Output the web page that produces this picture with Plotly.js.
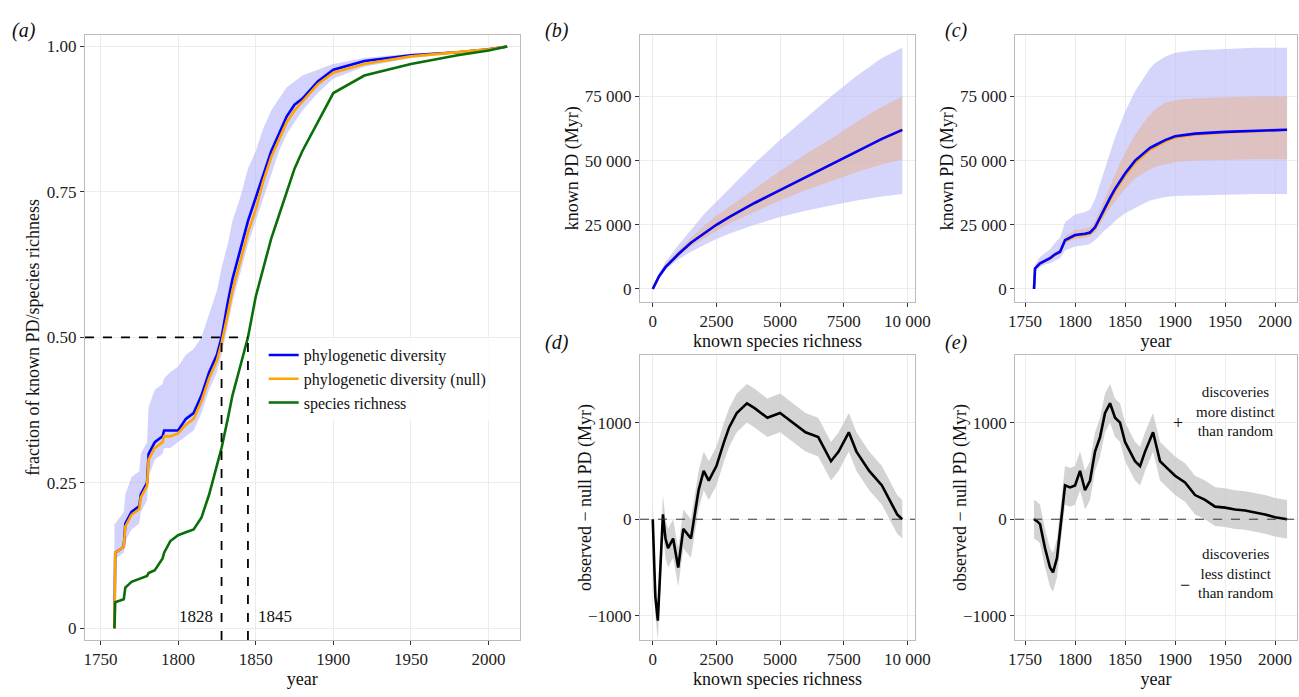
<!DOCTYPE html>
<html><head><meta charset="utf-8">
<script src="https://cdn.plot.ly/plotly-3.0.1.min.js"></script>
<style>body{margin:0}#chart{width:1299px;height:697px}</style>
</head><body><div id="chart"></div>
<script>
// panel (a): cumulative fractions by year
const yrA = [1759,1759.5,1765,1766,1770,1775,1776,1780,1781,1785,1790,1791,1795,1800,1805,1810,1815,1820,1825,1828,1832,1835,1840,1845,1850,1855,1860,1865,1870,1875,1880,1890,1900,1920,1950,1980,2000,2012];
const pdA = [0.0,0.13,0.14,0.18,0.2,0.21,0.23,0.25,0.3,0.32,0.33,0.34,0.34,0.34,0.36,0.37,0.4,0.44,0.47,0.5,0.56,0.6,0.65,0.7,0.74,0.78,0.82,0.85,0.88,0.9,0.91,0.94,0.96,0.975,0.985,0.99,0.995,1.0];
const nullA = [0.0,0.13,0.14,0.175,0.195,0.205,0.225,0.245,0.29,0.31,0.32,0.33,0.33,0.335,0.35,0.36,0.39,0.43,0.46,0.49,0.54,0.58,0.63,0.68,0.72,0.77,0.81,0.84,0.87,0.89,0.905,0.935,0.955,0.97,0.983,0.99,0.995,1.0];
const pdLoA = [0.12,0.12,0.13,0.15,0.17,0.18,0.2,0.22,0.26,0.29,0.3,0.31,0.31,0.32,0.33,0.34,0.37,0.41,0.44,0.47,0.52,0.56,0.61,0.66,0.7,0.74,0.78,0.82,0.85,0.87,0.89,0.92,0.945,0.965,0.98,0.988,0.994,1.0];
const pdHiA = [0.18,0.18,0.2,0.23,0.26,0.27,0.3,0.32,0.38,0.41,0.42,0.43,0.44,0.45,0.47,0.48,0.5,0.54,0.58,0.62,0.66,0.7,0.74,0.79,0.82,0.86,0.89,0.91,0.93,0.94,0.95,0.96,0.97,0.98,0.988,0.992,0.996,1.0];
const srA = [0.0,0.045,0.05,0.07,0.08,0.085,0.085,0.09,0.095,0.1,0.12,0.13,0.15,0.16,0.165,0.17,0.19,0.23,0.28,0.31,0.36,0.4,0.45,0.5,0.57,0.62,0.67,0.71,0.75,0.79,0.82,0.87,0.92,0.95,0.97,0.985,0.993,1.0];

// panel (b): PD vs species richness
const richB = [0,250,500,1000,1500,2000,2500,3000,4000,5000,6000,7000,8000,9000,9800];
const pdB = [0,5000,8500,13500,18000,21500,25000,28000,33500,38500,43500,48500,53500,58500,62000];
const blueLoB = [0,4500,7500,11500,14500,17000,19500,21500,25000,28000,30500,32500,34500,36000,37000];
const blueHiB = [0,6000,10500,17000,23000,29000,34000,39000,49000,58000,66500,75000,83000,90000,94000];
const orLoB = [0,4800,8000,12500,16500,19500,22500,25500,30000,34500,38500,42000,45500,48500,50500];
const orHiB = [0,5400,9300,15000,20000,24500,28500,32000,39000,46000,52500,58500,65000,71000,75000];

// panel (c): PD vs year
const yrC = [1759,1760,1765,1770,1775,1780,1785,1790,1800,1810,1815,1820,1825,1830,1835,1840,1845,1850,1860,1870,1875,1880,1890,1900,1920,1950,1980,2012];
const pdC = [0,8000,10000,11000,12000,13500,14500,19000,21000,21500,22000,24000,28000,32000,35500,39000,42000,45000,50000,53500,55000,56000,58000,59500,60500,61200,61600,62000];
const nullC = [0,8000,9900,10900,11800,13300,14300,18700,20700,21200,21700,23600,27500,31300,34800,38200,41200,44200,49200,52800,54300,55400,57500,59000,60200,61000,61500,62000];
const blueLoC = [0,7000,8500,9500,10000,11000,12000,15000,16500,17000,17500,19000,21000,23000,24500,26500,28000,29500,31500,33500,34500,35000,35800,36200,36600,36800,37000,37000];
const blueHiC = [0,9500,12500,14000,15500,18000,20000,26000,29000,30000,31000,35000,41000,47000,53000,59000,64000,69000,77000,83000,86000,88000,90500,92000,93000,93500,94000,94000];
const orLoC = [0,7800,9500,10500,11500,12800,13800,18000,19500,20000,20500,22000,25500,28500,31500,34000,36500,39000,43000,45500,46500,47500,48500,49500,50000,50300,50500,50500];
const orHiC = [0,8300,10500,11700,12700,14500,15500,20500,23000,23500,24000,26500,31000,36000,40500,45000,49000,53000,60000,65500,68000,70000,72500,73500,74300,74700,75000,75000];

// panel (d): observed - null vs richness
const richD = [0,100,200,300,400,500,600,800,1000,1200,1500,1800,2000,2200,2500,2800,3000,3300,3700,4000,4500,5000,5500,6000,6500,7000,7300,7700,8000,8500,9000,9300,9600,9800];
const diffD = [0,-800,-1050,-500,50,-200,-300,-200,-500,-100,-200,300,500,400,550,800,950,1100,1200,1150,1050,1100,1000,900,850,600,700,900,700,500,350,200,50,0];

// panel (e): observed - null vs year
const yrE = [1759,1762,1765,1770,1775,1778,1782,1785,1790,1795,1800,1805,1810,1815,1820,1825,1830,1835,1840,1845,1850,1855,1860,1865,1870,1878,1885,1890,1900,1910,1920,1930,1940,1950,1960,1970,1980,1990,2000,2012];
const diffE = [0,-20,-50,-300,-500,-550,-400,-100,350,330,350,500,300,400,700,850,1100,1200,1050,1000,800,700,600,550,700,900,600,550,450,380,250,200,130,120,100,90,70,50,20,0];

const band = 200;
const SERIF = 'Liberation Serif, Times New Roman, serif';

function bandTrace(x, lo, hi, color, xa, ya) {
  return {x: x.concat(x.slice().reverse()), y: hi.concat(lo.slice().reverse()), fill: 'toself',
    fillcolor: color, line: {width: 0}, mode: 'lines', hoverinfo: 'skip',
    showlegend: false, xaxis: xa, yaxis: ya};
}
function line(x, y, color, xa, ya, name, legend) {
  return {x: x, y: y, mode: 'lines', line: {color: color, width: 2.6},
    name: name, showlegend: !!legend, xaxis: xa, yaxis: ya};
}

const data = [
  bandTrace(yrA, pdLoA, pdHiA, 'rgba(180,180,250,0.6)', 'x', 'y'),
  line(yrA, pdA, 'blue', 'x', 'y', 'phylogenetic diversity', true),
  line(yrA, nullA, 'orange', 'x', 'y', 'phylogenetic diversity (null)', true),
  line(yrA, srA, '#0a6e0a', 'x', 'y', 'species richness', true),

  bandTrace(richB, blueLoB, blueHiB, 'rgba(190,190,250,0.65)', 'x2', 'y2'),
  bandTrace(richB, orLoB, orHiB, 'rgba(225,185,170,0.7)', 'x2', 'y2'),
  line(richB, pdB, 'orange', 'x2', 'y2', 'null'),
  line(richB, pdB, 'blue', 'x2', 'y2', 'pd'),

  bandTrace(yrC, blueLoC, blueHiC, 'rgba(190,190,250,0.65)', 'x3', 'y3'),
  bandTrace(yrC, orLoC, orHiC, 'rgba(225,185,170,0.7)', 'x3', 'y3'),
  line(yrC, nullC, 'orange', 'x3', 'y3', 'null'),
  line(yrC, pdC, 'blue', 'x3', 'y3', 'pd'),

  bandTrace(richD, diffD.map(v=>v-band), diffD.map(v=>v+band), 'rgba(200,200,200,0.8)', 'x4', 'y4'),
  line(richD, diffD, 'black', 'x4', 'y4', 'd'),

  bandTrace(yrE, diffE.map(v=>v-band), diffE.map(v=>v+band), 'rgba(200,200,200,0.8)', 'x5', 'y5'),
  line(yrE, diffE, 'black', 'x5', 'y5', 'e')
];

const ax = {showgrid: true, gridcolor: '#ececec', zeroline: false, showline: true, mirror: true,
  linecolor: '#bbbbbb', linewidth: 1, ticks: 'outside', ticklen: 4, tickcolor: '#333',
  tickfont: {size: 17, color: '#222'}};
const tf = {size: 18, color: '#111'};
function a(extra) { return Object.assign({}, ax, extra); }

const yearTicks = [1750,1800,1850,1900,1950,2000];
const yearText = yearTicks.map(String);
const yTop = [0.567, 0.950], yBot = [0.0818, 0.4907];
const layout = {
  width: 1299, height: 697, margin: {l: 0, r: 0, t: 0, b: 0},
  paper_bgcolor: 'white', plot_bgcolor: 'white',
  font: {family: SERIF, color: '#111'},
  xaxis: a({domain: [0.0654, 0.400], range: [1740, 2020], tickvals: yearTicks, ticktext: yearText, title: {text: 'year', font: tf, standoff: 2}, anchor: 'y'}),
  yaxis: a({domain: [0.0818, 0.950], range: [-0.02, 1.02], tickvals: [0,0.25,0.5,0.75,1], ticktext: ['0','0.25','0.50','0.75','1.00'], title: {text: 'fraction of known PD/species richness', font: tf}, anchor: 'x'}),
  xaxis2: a({domain: [0.4927, 0.7044], range: [-500, 10300], tickvals: [0,2500,5000,7500,10000], ticktext: ['0','2500','5000','7500','10 000'], title: {text: 'known species richness', font: tf, standoff: 4}, anchor: 'y2'}),
  yaxis2: a({domain: yTop, range: [-5000, 99000], tickvals: [0,25000,50000,75000], ticktext: ['0','25 000','50 000','75 000'], title: {text: 'known PD (Myr)', font: tf}, anchor: 'x2'}),
  xaxis3: a({domain: [0.7814, 0.9985], range: [1740, 2022], tickvals: yearTicks, ticktext: yearText, title: {text: 'year', font: tf, standoff: 4}, anchor: 'y3'}),
  yaxis3: a({domain: yTop, range: [-5000, 99000], tickvals: [0,25000,50000,75000], ticktext: ['0','25 000','50 000','75 000'], title: {text: 'known PD (Myr)', font: tf}, anchor: 'x3'}),
  xaxis4: a({domain: [0.4927, 0.7044], range: [-500, 10300], tickvals: [0,2500,5000,7500,10000], ticktext: ['0','2500','5000','7500','10 000'], title: {text: 'known species richness', font: tf, standoff: 4}, anchor: 'y4'}),
  yaxis4: a({domain: yBot, range: [-1250, 1700], tickvals: [-1000,0,1000], ticktext: ['\u22121000','0','1000'], title: {text: 'observed \u2212 null PD (Myr)', font: tf}, anchor: 'x4'}),
  xaxis5: a({domain: [0.7814, 0.9985], range: [1740, 2022], tickvals: yearTicks, ticktext: yearText, title: {text: 'year', font: tf, standoff: 4}, anchor: 'y5'}),
  yaxis5: a({domain: yBot, range: [-1250, 1700], tickvals: [-1000,0,1000], ticktext: ['\u22121000','0','1000'], title: {text: 'observed \u2212 null PD (Myr)', font: tf}, anchor: 'x5'}),
  legend: {x: 0.203, y: 0.515, xref: 'paper', yref: 'paper', xanchor: 'left', yanchor: 'top', font: {size: 16, family: SERIF},
    bgcolor: 'rgba(255,255,255,0.85)', tracegroupgap: 0},
  shapes: [
    {type: 'line', xref: 'x', yref: 'y', x0: 1740, x1: 1845, y0: 0.5, y1: 0.5, line: {dash: 'dash', width: 1.8, color: 'black'}},
    {type: 'line', xref: 'x', yref: 'y', x0: 1828, x1: 1828, y0: -0.02, y1: 0.5, line: {dash: 'dash', width: 1.8, color: 'black'}},
    {type: 'line', xref: 'x', yref: 'y', x0: 1845, x1: 1845, y0: -0.02, y1: 0.5, line: {dash: 'dash', width: 1.8, color: 'black'}},
    {type: 'line', xref: 'x4', yref: 'y4', x0: -500, x1: 10300, y0: 0, y1: 0, line: {dash: 'dash', width: 1, color: '#333'}},
    {type: 'line', xref: 'x5', yref: 'y5', x0: 1740, x1: 2022, y0: 0, y1: 0, line: {dash: 'dash', width: 1, color: '#333'}}
  ],
  annotations: [
    {xref: 'x', yref: 'y', x: 1824, y: 0.02, text: '1828', showarrow: false, xanchor: 'right', font: {size: 17}},
    {xref: 'x', yref: 'y', x: 1850, y: 0.02, text: '1845', showarrow: false, xanchor: 'left', font: {size: 17}},
    {xref: 'paper', yref: 'paper', x: 0.008, y: 0.975, text: '<i>(a)</i>', showarrow: false, xanchor: 'left', font: {size: 20}},
    {xref: 'paper', yref: 'paper', x: 0.418, y: 0.975, text: '<i>(b)</i>', showarrow: false, xanchor: 'left', font: {size: 20}},
    {xref: 'paper', yref: 'paper', x: 0.726, y: 0.975, text: '<i>(c)</i>', showarrow: false, xanchor: 'left', font: {size: 20}},
    {xref: 'paper', yref: 'paper', x: 0.418, y: 0.508, text: '<i>(d)</i>', showarrow: false, xanchor: 'left', font: {size: 20}},
    {xref: 'paper', yref: 'paper', x: 0.726, y: 0.508, text: '<i>(e)</i>', showarrow: false, xanchor: 'left', font: {size: 20}},
    {xref: 'x5', yref: 'y5', x: 1961, y: 1120, text: 'discoveries<br>more distinct<br>than random', showarrow: false, font: {size: 15}},
    {xref: 'x5', yref: 'y5', x: 1903, y: 1000, text: '+', showarrow: false, font: {size: 18}},
    {xref: 'x5', yref: 'y5', x: 1961, y: -560, text: 'discoveries<br>less distinct<br>than random', showarrow: false, font: {size: 15}},
    {xref: 'x5', yref: 'y5', x: 1910, y: -680, text: '\u2212', showarrow: false, font: {size: 18}}
  ]
};
Plotly.newPlot('chart', data, layout, {displayModeBar: false});
</script></body></html>
